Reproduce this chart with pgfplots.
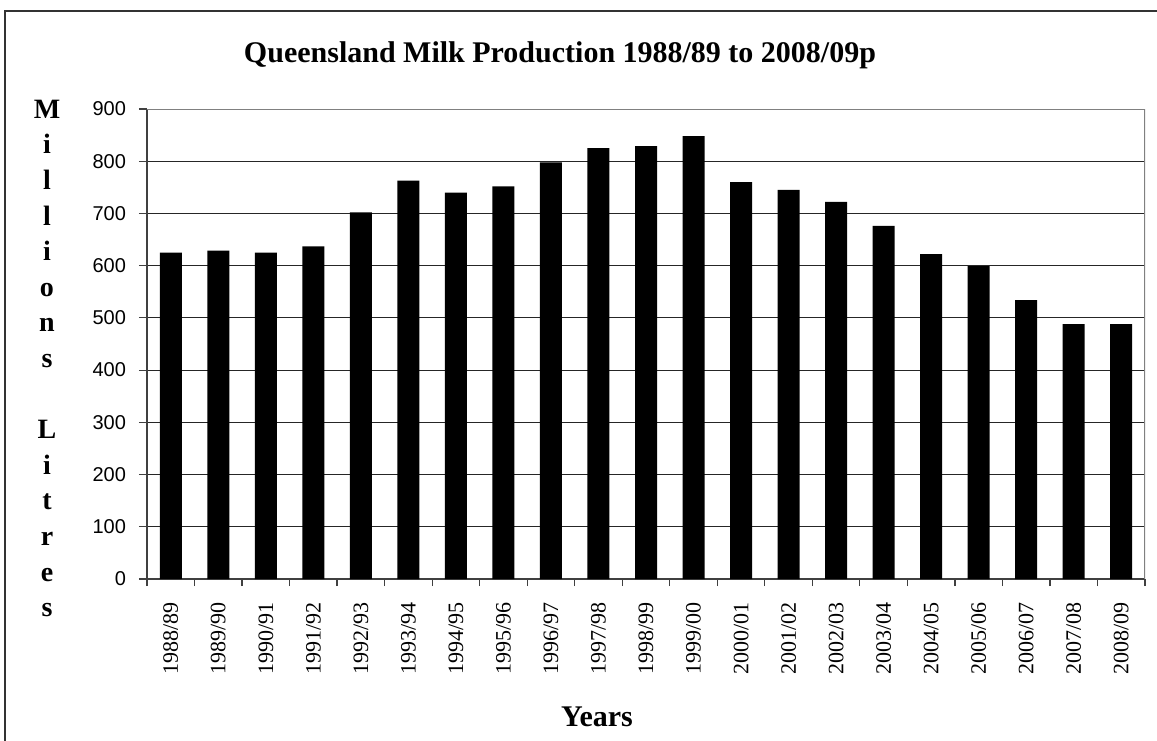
\documentclass[border=0pt]{standalone}
\usepackage{pgfplots}
\pgfplotsset{compat=1.18}
\usepackage{fontspec}
\setmainfont{Liberation Serif}
\newfontfamily\arialfont{Liberation Sans}
\newfontfamily\timesfont{Liberation Serif}
\begin{document}
\begin{tikzpicture}
\useasboundingbox (0pt,0pt) rectangle (578.5pt,370pt);
\fill[white] (0pt,0pt) rectangle (578.5pt,370pt);
\draw[line width=0.9pt, black!80] (2.5pt,-10pt) -- (2.5pt,364.5pt) -- (600pt,364.5pt);
\node[font=\bfseries\fontsize{15}{18}\selectfont] at (280pt,342.5pt) {Queensland Milk Production 1988/89 to 2008/09p};
\node[font=\bfseries\fontsize{15}{18}\selectfont] at (298.5pt,11.5pt) {Years};
\node[font=\bfseries\fontsize{14}{17.8}\selectfont, align=center, inner sep=0pt] at (23.5pt,190.75pt) {M\\i\\l\\l\\i\\o\\n\\s\\ \\L\\i\\t\\r\\e\\s};
\begin{axis}[
  at={(73.5pt,80.5pt)}, anchor=south west,
  scale only axis, width=499pt, height=235pt,
  ybar, bar width=11pt,
  ymin=0, ymax=900, ytick={0,100,...,900},
  xmin=-0.5, xmax=20.5, enlargelimits=false,
  xtick={0,...,20},
  xticklabels={1988/89,1989/90,1990/91,1991/92,1992/93,1993/94,1994/95,1995/96,1996/97,1997/98,1998/99,1999/00,2000/01,2001/02,2002/03,2003/04,2004/05,2005/06,2006/07,2007/08,2008/09},
  minor xtick={-0.5,0.5,...,20.5},
  axis x line*=bottom, axis y line*=left,
  axis line style={black!75, line width=0.75pt},
  tick align=outside,
  major tick length=4pt, minor tick length=3.5pt,
  major x tick style={draw=none},
  minor x tick style={black!75, line width=0.6pt},
  major y tick style={black!75, line width=0.6pt},
  ymajorgrids, major grid style={black!85, line width=0.5pt},
  /pgf/number format/assume math mode=true,
  yticklabel style={font=\arialfont\fontsize{10}{12}\selectfont, xshift=-3pt},
  xticklabel style={rotate=90, anchor=east, xshift=-4pt, font=\timesfont\fontsize{11}{13}\selectfont},
]
\addplot[fill=black, draw=none] coordinates {
(0,625) (1,629) (2,625) (3,637) (4,702) (5,763) (6,740) (7,752) (8,798) (9,825) (10,829)
(11,848) (12,760) (13,745) (14,722) (15,676) (16,622) (17,599) (18,534) (19,488) (20,488)
};
\draw[gray, line width=1pt] (rel axis cs:0,1) -- (rel axis cs:1,1) -- (rel axis cs:1,0);
\end{axis}
\end{tikzpicture}
\end{document}
